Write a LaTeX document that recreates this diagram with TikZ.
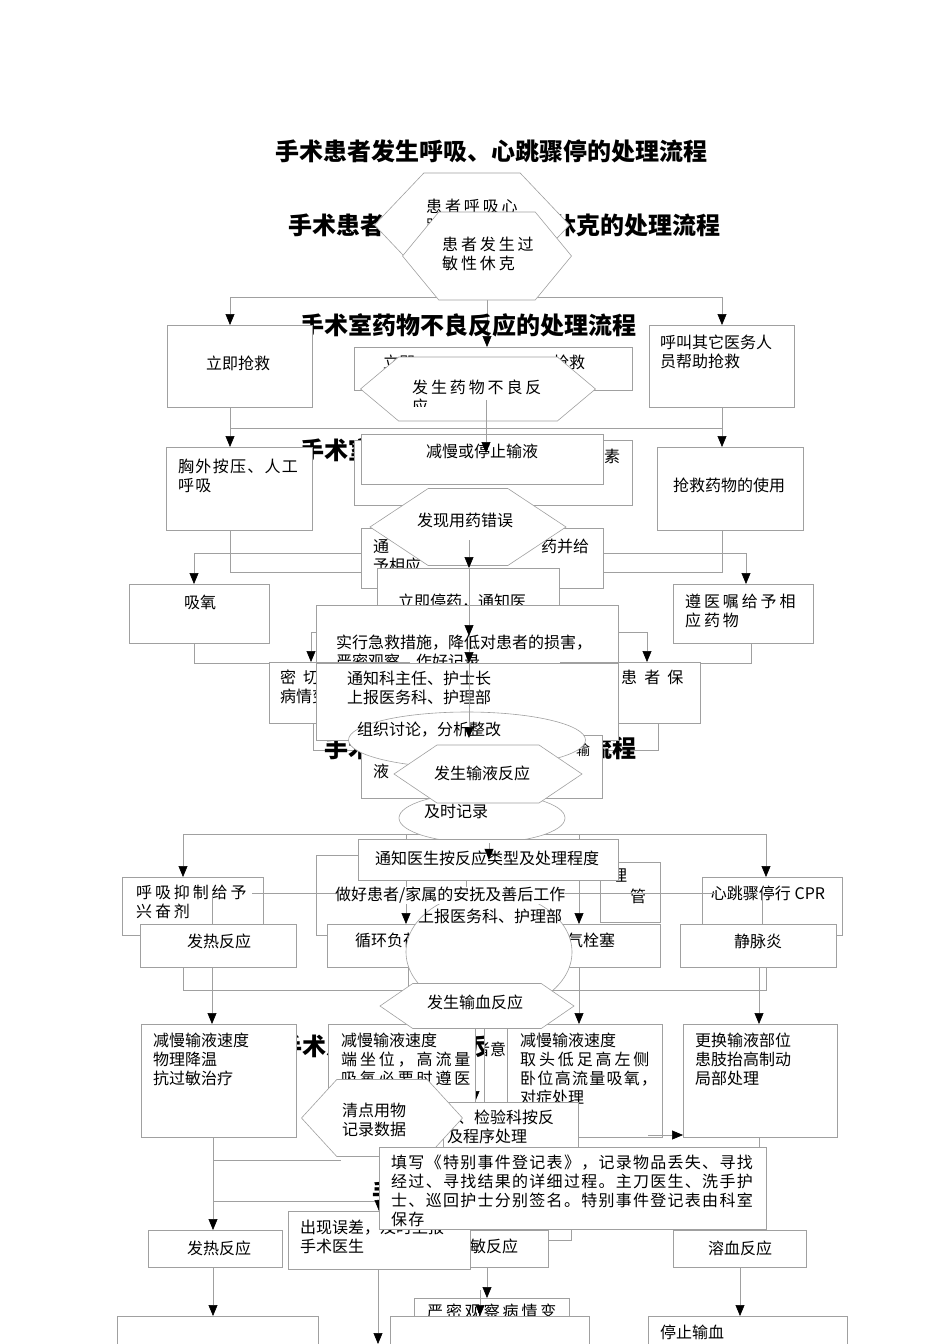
\documentclass[tikz,border=0pt]{standalone}
\usepackage{fontspec}
\setmainfont{Noto Sans CJK SC}
\usetikzlibrary{arrows.meta, positioning, shapes.geometric, shapes.symbols}
\definecolor{linegray}{RGB}{160,160,160}
\pgfdeclarelayer{bg}
\pgfdeclarelayer{back}
\pgfsetlayers{bg,back,main}

\begin{document}
\begin{tikzpicture}[x=1pt, y=-1pt,
    box/.style={draw=linegray, fill=white, line width=0.6pt, anchor=north west, inner sep=0pt},
    hexa/.style={signal, signal to=east and west, draw=linegray, fill=white, line width=0.6pt, inner sep=0pt},
    oval/.style={ellipse, draw=linegray, fill=white, line width=0.6pt, inner sep=0pt},
    txt/.style={font=\fontsize{16}{19}\selectfont, anchor=north west, inner sep=0pt, align=left},
    ctxt/.style={font=\fontsize{16}{19}\selectfont, inner sep=0pt},
    semi/.style={txt, font=\fontsize{16}{19}\selectfont\addfontfeature{LetterSpace=8}},
    wide/.style={txt, font=\fontsize{16}{19}\selectfont\addfontfeature{LetterSpace=18}},
    wider/.style={txt, font=\fontsize{16}{19}\selectfont\addfontfeature{LetterSpace=44}},
    ttl/.style={font=\fontsize{24}{26}\selectfont\bfseries, inner sep=0pt},
    ln/.style={draw=linegray, line width=0.6pt},
    arr/.style={ln, -{Triangle[color=black, width=9pt, length=11pt]}}]

\useasboundingbox (0,0) rectangle (950,1344);
\begin{pgfonlayer}{bg}
  \fill[white] (0,0) rectangle (950,1344);
\end{pgfonlayer}

% junctions of the connectors
\coordinate (a1) at (230,297);  \coordinate (a2) at (722,297);
\coordinate (b1) at (230,428);  \coordinate (b2) at (722,428);
\coordinate (c1) at (230,572);  \coordinate (c2) at (194,553);
\coordinate (c3) at (722,572);  \coordinate (c4) at (746,553);
\coordinate (d1) at (194,663);  \coordinate (d2) at (751,663);
\coordinate (d3) at (311,632);  \coordinate (d4) at (647,632);
\coordinate (e1) at (313,750);  \coordinate (e2) at (658,750);
\coordinate (f1) at (183,834);  \coordinate (f2) at (766,834);
\coordinate (f3) at (406,834);  \coordinate (f4) at (579,834);
\coordinate (g1) at (183,990);  \coordinate (g2) at (766,990);
\coordinate (g3) at (408,990);  \coordinate (g4) at (212,990);
\coordinate (g5) at (579,990);  \coordinate (g6) at (759,990);
\coordinate (h1) at (475,1028);
\coordinate (k1) at (213,1160); \coordinate (k2) at (213,1201);
\coordinate (k3) at (341,1160); \coordinate (k4) at (379,1201);
\coordinate (m1) at (213,1316); \coordinate (m2) at (378,1344);
\coordinate (m3) at (487,1298); \coordinate (m4) at (740,1316);
\coordinate (p1) at (486,400);  \coordinate (p2) at (486,453);
\coordinate (q0) at (469,540);  \coordinate (q2) at (469,636);
\coordinate (q4) at (469,738);
\coordinate (r1) at (489,843);
\coordinate (s1) at (252,893);  \coordinate (s2) at (716,893);
\coordinate (s3) at (212,895);  \coordinate (s4) at (762,895);
\coordinate (t1) at (648,1135);
\coordinate (u1) at (480,1290);

% Titles
\node[ttl] (title1) at (491,151) {手术患者发生呼吸、心跳骤停的处理流程};
\node[ttl] (title2) at (504,225) {手术患者给药发生过敏性休克的处理流程};
\node[ttl] (title3) at (468,325) {手术室药物不良反应的处理流程};
\node[ttl] (title4) at (444,450) {手术室用药错误的处理流程};
\node[ttl] (title5) at (480,748) {手术患者输液反应的处理流程};
\node[ttl] (title6) at (458,1046) {手术患者发生输血反应的处理流程};
\node[ttl] (title7) at (528,1192) {手术物品清点有误的处理流程};

% Start shapes
\node[hexa, minimum width=195pt, minimum height=104pt, signal pointer angle=93] (arrest) at (472,225) {};
\node[wide] at (426,199) {患者呼吸心\\跳骤停};
\node[hexa, minimum width=169pt, minimum height=88pt, signal pointer angle=101] (shock) at (487,256) {};
\node[wide] at (442,237) {患者发生过\\敏性休克};

% Row 1
\node[box, minimum width=145pt, minimum height=82pt] (rescue) at (167,325) {};
\node[ctxt] at (238,363) {立即抢救};
\node[box, minimum width=145pt, minimum height=82pt] (callhelp) at (649,325) {};
\node[txt] at (660,335) {呼叫其它医务人\\员帮助抢救};
\node[box, minimum width=278pt, minimum height=43pt] (stopdrug) at (354,347) {};
\node[txt] at (383,355) {立即};
\node[txt] at (553,355) {抢救};
\node[hexa, minimum width=235pt, minimum height=64pt, signal pointer angle=80] (adverse) at (478,389) {};
\begin{scope}
  \clip (400,370) rectangle (560,406);
  \node[wide] at (412,380) {发生药物不良反\\应};
\end{scope}

% Row 2
\node[box, minimum width=146pt, minimum height=83pt] (chest) at (166,447) {};
\node[semi] at (178,459) {胸外按压、人工\\呼吸};
\node[box, minimum width=146pt, minimum height=83pt] (drugs) at (657,447) {};
\node[ctxt] at (729,485) {抢救药物的使用};
\node[box, minimum width=278pt, minimum height=65pt] (suback) at (354,440) {};
\node[txt] at (604,449) {素};
\node[box, minimum width=242pt, minimum height=50pt] (slowdrip) at (361,434) {};
\node[ctxt] at (482,451) {减慢或停止输液};
\draw[arr] (p1) -- (p2);

% Wrong drug
\node[box, minimum width=242pt, minimum height=60pt] (notifygive) at (361,528) {};
\node[txt] at (373,539) {通\\予相应};
\node[txt] at (541,539) {药并给};
\node[hexa, minimum width=196pt, minimum height=77pt, signal pointer angle=67] (wrongdrug) at (468,527) {};
\node[ctxt] at (465,520) {发现用药错误};
\node[box, minimum width=182pt, minimum height=50pt] (stopnotify) at (377,568) {};
\node[txt] at (398,594) {立即停药，通知医};

% Row 3
\node[box, minimum width=140pt, minimum height=59pt] (oxygen) at (129,584) {};
\node[ctxt] at (200,602) {吸氧};
\node[box, minimum width=140pt, minimum height=59pt] (ordermed) at (673,584) {};
\node[wide] at (685,594) {遵医嘱给予相\\应药物};
\node[box, minimum width=302pt, minimum height=58pt] (firstaid) at (316,605) {};
\node[txt] at (336,635) {实行急救措施，降低对患者的损害，\\严密观察，作好记录};

% Row 4
\node[box, minimum width=140pt, minimum height=61pt] (watch) at (269,662) {};
\node[wider] at (280,670) {密切观察};
\node[txt] at (280,689) {病情变化};
\node[box, minimum width=140pt, minimum height=61pt] (warm) at (560,662) {};
\node[wider] at (598,670) {为患者保};
\node[txt] at (598,689) {暖};
\node[box, minimum width=302pt, minimum height=77pt] (notifyhead) at (316,663) {};
\node[txt] at (347,671) {通知科主任、护士长\\上报医务科、护理部};
\node[box, minimum width=241pt, minimum height=63pt] (infback) at (361,735) {};
\node[txt] at (373,764) {液};
\node[txt, font=\fontsize{14}{16}\selectfont] at (576,743) {输};
\node[oval, minimum width=237pt, minimum height=56pt] (discuss) at (467,740) {};
\node[txt] at (357,722) {组织讨论，分析整改};
\draw[arr] (q0) -- (q0 |- stopnotify.north);
\draw[arr] (q0 |- stopnotify.north) -- (q2);
\draw[arr] (q2) -- (q2 |- notifyhead.north);
\draw[arr] (q2 |- notifyhead.north) -- (q4);

% Infusion reaction
\node[oval, minimum width=166pt, minimum height=50pt] (record) at (482,818) {};
\node[ctxt] at (456,811) {及时记录};
\node[hexa, minimum width=188pt, minimum height=58pt, signal pointer angle=68] (infusion) at (488,774) {};
\node[ctxt] at (482,773) {发生输液反应};
\node[box, minimum width=150pt, minimum height=80pt] (careback) at (316,855) {};
\node[box, minimum width=60pt, minimum height=60pt] (manageback) at (600,862) {};
\node[txt] at (611,869) {理};
\node[txt] at (630,889) {管};
\node[box, minimum width=260pt, minimum height=41pt] (notifydoc) at (358,839) {};
\node[ctxt] at (487,858) {通知医生按反应类型及处理程度};
\draw[arr] (r1) -- (r1 |- notifydoc.center);
\node[box, minimum width=141pt, minimum height=58pt] (resp) at (122,877) {};
\node[wide] at (136,885) {呼吸抑制给予\\兴奋剂};
\node[box, minimum width=140pt, minimum height=58pt] (cpr) at (702,877) {};
\node[ctxt] at (768,893) {心跳骤停行 CPR};
\draw[ln] (s1) -- (s2);
\draw[arr] (s3) -- (s3 |- resp.south);
\draw[arr] (s4) -- (s4 |- cpr.south);

% Row of reactions
\node[box, minimum width=156pt, minimum height=43pt] (fever1) at (140,924) {};
\node[ctxt] at (219,941) {发热反应};
\node[box, minimum width=167pt, minimum height=43pt] (overload) at (327,924) {};
\node[txt] at (355,933) {循环负荷过重};
\node[box, minimum width=166pt, minimum height=43pt] (embolism) at (494,924) {};
\node[txt] at (551,933) {空气栓塞};
\node[box, minimum width=156pt, minimum height=43pt] (phlebitis) at (680,924) {};
\node[ctxt] at (758,941) {静脉炎};
\draw[arr] (f3 |- notifydoc.south) -- (f3 |- overload.north);
\draw[arr] (f4 |- notifydoc.south) -- (f4 |- embolism.north);
\node[oval, minimum width=166pt, minimum height=120pt] (reportoval) at (489,952) {};
\node[txt, fill=white] at (335,887) {做好患者/家属的安抚及善后工作};
\node[ctxt] at (490,916) {上报医务科、护理部};

% Treatments
\node[box, minimum width=155pt, minimum height=113pt] (fevercare) at (141,1024) {};
\node[txt] at (153,1033) {减慢输液速度\\物理降温\\抗过敏治疗};
\node[box, minimum width=147pt, minimum height=113pt] (overcare) at (328,1024) {};
\node[txt] at (341,1033) {减慢输液速度};
\node[wide] at (341,1052) {端坐位，高流量};
\begin{scope}
  \clip (330,1064) rectangle (474,1085);
  \node[wide] at (341,1071) {吸氧必要时遵医};
\end{scope}
\node[box, minimum width=23pt, minimum height=78pt] (narrowback) at (484,1024) {};
\begin{scope}
  \clip (485,1025) rectangle (506,1101);
  \node[txt] at (474,1042) {者意};
\end{scope}
\node[box, minimum width=155pt, minimum height=113pt] (embcare) at (507,1024) {};
\node[txt] at (520,1033) {减慢输液速度};
\node[wide] at (520,1052) {取头低足高左侧};
\node[semi] at (520,1071) {卧位高流量吸氧，};
\node[txt] at (520,1090) {对症处理};
\node[box, minimum width=154pt, minimum height=113pt] (phlebcare) at (683,1024) {};
\node[txt] at (695,1033) {更换输液部位\\患肢抬高制动\\局部处理};
\draw[arr] (t1) -- (t1 -| phlebcare.west);
\node[hexa, minimum width=194pt, minimum height=45pt, signal pointer angle=69] (transfusion) at (477,1006) {};
\node[ctxt] at (475,1002) {发生输血反应};

% Count of items
\node[box, minimum width=135pt, minimum height=60pt] (labcheck) at (443,1102) {};
\node[txt] at (458,1110) {、检验科按反};
\node[txt] at (447,1129) {及程序处理};
\node[hexa, minimum width=161pt, minimum height=77pt, signal pointer angle=95] (count) at (382,1118) {};
\node[txt] at (342,1103) {清点用物\\记录数据};
\node[box, minimum width=134pt, minimum height=37pt] (fever2) at (148,1230) {};
\node[ctxt] at (219,1248) {发热反应};
\node[box, minimum width=115pt, minimum height=23pt] (smallback) at (456,1217) {};
\node[box, minimum width=108pt, minimum height=37pt] (allergy) at (440,1230) {};
\node[txt] at (454,1239) {过敏反应};
\node[box, minimum width=182pt, minimum height=58pt] (errorrep) at (288,1211) {};
\node[txt] at (300,1220) {出现误差，及时上报\\手术医生};
\node[box, minimum width=387pt, minimum height=82pt] (regform) at (379,1147) {};
\node[semi] at (391,1155) {填写《特别事件登记表》，记录物品丢失、寻找\\经过、寻找结果的详细过程。主刀医生、洗手护\\士、巡回护士分别签名。特别事件登记表由科室\\保存};
\node[box, minimum width=133pt, minimum height=37pt] (hemolysis) at (673,1230) {};
\node[ctxt] at (740,1248) {溶血反应};

% Bottom row
\node[box, minimum width=155pt, minimum height=40pt] (observe) at (414,1298) {};
\node[wide] at (427,1304) {严密观察病情变};
\node[box, minimum width=201pt, minimum height=40pt] (emptyleft) at (117,1316) {};
\node[box, minimum width=199pt, minimum height=40pt] (emptymid) at (390,1316) {};
\node[box, minimum width=199pt, minimum height=40pt] (stopblood) at (648,1316) {};
\node[txt] at (660,1325) {停止输血};
\draw[arr] (u1) -- (u1 |- emptymid.north);

% Connectors behind the boxes
\begin{pgfonlayer}{back}
  \draw[ln] (a1) -- (a2);
  \draw[arr] (a1) -- (a1 |- rescue.north);
  \draw[arr] (a2) -- (a2 |- callhelp.north);
  \draw[arr] (shock.south) -- (shock.south |- stopdrug.north);
  \draw[ln] (b1 |- rescue.south) -- (b1) -- (b2) -- (b2 |- callhelp.south);
  \draw[arr] (b1) -- (b1 |- chest.north);
  \draw[arr] (b2) -- (b2 |- drugs.north);
  \draw[ln] (c1 |- chest.south) -- (c1) -- (c1 -| notifygive.west);
  \draw[ln] (c2 -| notifygive.west) -- (c2);
  \draw[arr] (c2) -- (c2 |- oxygen.north);
  \draw[ln] (c3 |- drugs.south) -- (c3) -- (c3 -| notifygive.east);
  \draw[ln] (c4 -| notifygive.east) -- (c4);
  \draw[arr] (c4) -- (c4 |- ordermed.north);
  \draw[ln] (d1 |- oxygen.south) -- (d1) -- (d1 -| watch.west);
  \draw[ln] (d2 |- ordermed.south) -- (d2) -- (d2 -| warm.east);
  \draw[arr] (d3 -| firstaid.west) -- (d3) -- (d3 |- watch.north);
  \draw[arr] (d4 -| firstaid.east) -- (d4) -- (d4 |- warm.north);
  \draw[ln] (e1 |- watch.south) -- (e1) -- (e1 -| infback.west);
  \draw[ln] (e2 |- warm.south) -- (e2) -- (e2 -| infback.east);
  % infusion chart
  \draw[ln] (f1) -- (f2);
  \draw[arr] (f1) -- (f1 |- resp.north);
  \draw[arr] (f2) -- (f2 |- cpr.north);
  \draw[ln] (f3) -- (f3 |- notifydoc.south);
  \draw[ln] (f4) -- (f4 |- notifydoc.south);
  \draw[ln] (g1 |- resp.south) -- (g1) -- (g2) -- (g2 |- cpr.south);
  \draw[ln] (g3 |- overload.south) -- (g3);
  \draw[arr] (g4 |- fever1.south) -- (g4 |- fevercare.north);
  \draw[arr] (g5 |- embolism.south) -- (g5 |- embcare.north);
  \draw[arr] (g6 |- phlebitis.south) -- (g6 |- phlebcare.north);
  \draw[ln] (g6 |- phlebcare.south) -- (g6 |- regform.north);
  \draw[arr] (h1) -- (h1 |- labcheck.north);
  % transfusion and count chart
  \draw[arr] (k1 |- fevercare.south) -- (k1 |- fever2.north);
  \draw[ln] (k1) -- (k3);
  \draw[ln] (k2) -- (k4);
  \draw[arr] (k4) -- (k4 |- errorrep.north);
  \draw[arr] (m1 |- fever2.south) -- (m1);
  \draw[arr] (m2 |- errorrep.south) -- (m2);
  \draw[arr] (m3 |- allergy.south) -- (m3);
  \draw[arr] (m4 |- hemolysis.south) -- (m4);
\end{pgfonlayer}
\end{tikzpicture}
\end{document}
